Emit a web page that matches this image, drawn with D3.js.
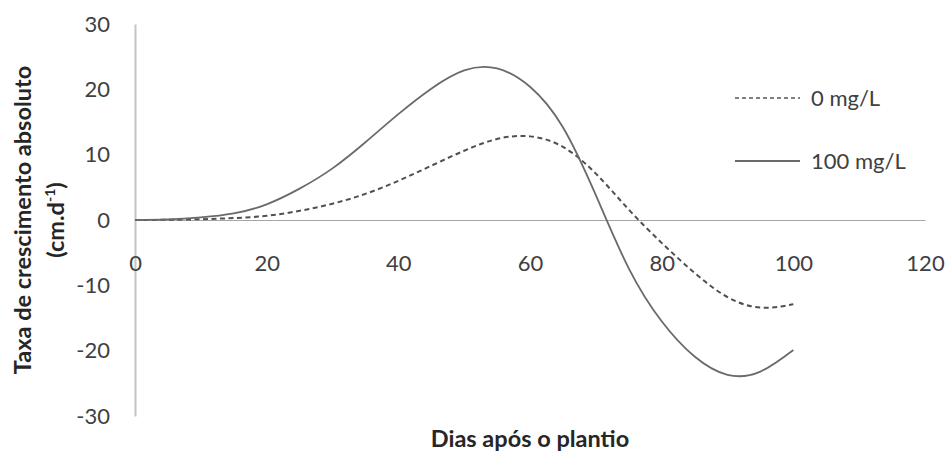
<!DOCTYPE html>
<html>
<head>
<meta charset="utf-8">
<script src="https://cdn.jsdelivr.net/npm/d3@7"></script>
<style>
  body { margin: 0; background: #fff; }
  text { font-family: Lato, "Open Sans", sans-serif; }
</style>
</head>
<body>
<script>
const svgWidth = 947;
const svgHeight = 452;

// data (days after planting, growth rate)
const days = [0, 5, 10, 15, 20, 25, 30, 35, 40, 45, 50, 55, 60, 65, 70, 75, 80, 85, 90, 95, 100];
const rate0 = [0, 0.03, 0.12, 0.3, 0.65, 1.4, 2.5, 4.0, 6.0, 8.3, 10.6, 12.4, 12.8, 11.2, 7.1, 1.6, -3.5, -8.1, -11.8, -13.4, -12.9];
const rate100 = [0, 0.1, 0.4, 1.0, 2.4, 4.8, 7.9, 11.9, 16.2, 20.1, 22.9, 23.2, 20.4, 14.2, 3.8, -7.4, -15.5, -20.9, -23.7, -23.2, -19.9];
const xTicks = [0, 20, 40, 60, 80, 100, 120];
const yTicks = [-30, -20, -10, 0, 10, 20, 30];
const seriesNames = ["0 mg/L", "100 mg/L"];

const svg = d3.select("body").append("svg")
            .attr("width", svgWidth)
            .attr("height", svgHeight);

// plot area
const plotLeft = 135, plotRight = 925, plotTop = 24, plotBottom = 416;
var xScale = d3.scaleLinear().domain([0, 120]).range([plotLeft, plotRight]);
var yScale = d3.scaleLinear().domain([-30, 30]).range([plotBottom, plotTop]);

const tickColor = "#404040";
const tickFont = 22;

// y axis: plain vertical line with labels on the left (hyphen, not unicode minus)
var y_axis = d3.axisLeft(yScale).tickValues(yTicks).tickSize(0).tickPadding(25)
               .tickFormat(function(d) { return String(d); });
var gy = svg.append("g")
   .attr("transform", "translate(" + plotLeft + ",0)")
   .call(y_axis);
gy.select(".domain").attr("stroke", "#c4c4c4").attr("stroke-width", 2);
gy.selectAll("text")
  .attr("font-size", tickFont)
  .attr("fill", tickColor)
  .style("font-family", "Lato, sans-serif");

// x axis sits on the zero line, labels under it
var x_axis = d3.axisBottom(xScale).tickValues(xTicks).tickSize(0).tickPadding(35);
var gx = svg.append("g")
   .attr("transform", "translate(0," + yScale(0) + ")")
   .call(x_axis);
gx.select(".domain").attr("stroke", "#a6a6a6").attr("stroke-width", 1);
gx.selectAll("text")
  .attr("font-size", tickFont)
  .attr("fill", tickColor)
  .style("font-family", "Lato, sans-serif");

// the two curves
const line = d3.line()
             .curve(d3.curveNatural)
             .x(function(d, i) {return xScale(days[i]);})
             .y(function(d) {return yScale(d);});

svg.append("path").attr("d", line(rate0))
   .attr("stroke", "#505050")
   .attr("stroke-width", 2)
   .attr("stroke-dasharray", "5,3.5")
   .attr("fill", "none");
svg.append("path").attr("d", line(rate100))
   .attr("stroke", "#6a6a6a")
   .attr("stroke-width", 1.8)
   .attr("fill", "none");

// legend
const legendY = [98, 161];
const legendDash = ["4,3", null];
const legendColor = ["#555", "#6a6a6a"];
for (let i = 0; i < seriesNames.length; i++) {
  svg.append("line")
     .attr("x1", 735).attr("x2", 800)
     .attr("y1", legendY[i]).attr("y2", legendY[i])
     .attr("stroke", legendColor[i])
     .attr("stroke-width", i == 0 ? 1.4 : 2.2)
     .attr("stroke-dasharray", legendDash[i]);
  svg.append("text")
     .attr("x", 811)
     .attr("y", legendY[i])
     .attr("dy", "0.35em")
     .attr("font-size", tickFont)
     .attr("fill", tickColor)
     .text(seriesNames[i]);
}

// axis titles
svg.append("text")
   .attr("x", (plotLeft + plotRight) / 2)
   .attr("y", 447)
   .attr("text-anchor", "middle")
   .attr("font-size", 23.5)
   .attr("font-weight", "bold")
   .attr("fill", "#262626")
   .text("Dias após o plantio");

var yTitle = svg.append("text")
   .attr("transform", "translate(31,220) rotate(-90)")
   .attr("text-anchor", "middle")
   .attr("font-size", 23.5)
   .attr("font-weight", "bold")
   .attr("fill", "#262626");
yTitle.append("tspan").attr("x", 0).attr("dy", 0).text("Taxa de crescimento absoluto");
var sub = yTitle.append("tspan").attr("x", 0).attr("dy", 33);
sub.append("tspan").text("(cm.d");
sub.append("tspan").attr("font-size", 14).attr("dy", -9).text("-1");
sub.append("tspan").attr("dy", 9).text(")");
</script>
</body>
</html>
